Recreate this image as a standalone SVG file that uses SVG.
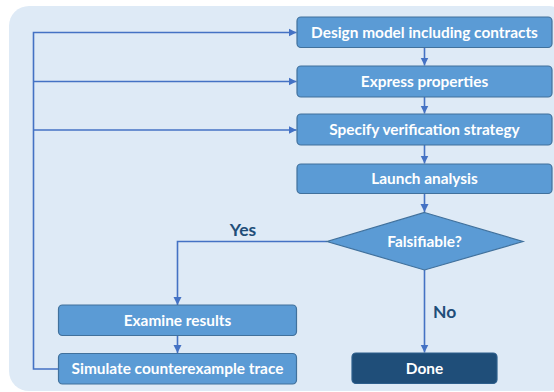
<svg xmlns="http://www.w3.org/2000/svg" width="554" height="392" viewBox="0 0 554 392">
  <defs>
    <marker id="arr" markerUnits="userSpaceOnUse" markerWidth="9" markerHeight="9" viewBox="0 0 9 9" refX="8" refY="4.5" orient="auto">
      <path d="M0,0.5 L8,4.5 L0,8.5 Z" fill="#4472C4"/>
    </marker>
  </defs>
  <style>
    .bg { fill: #DEEAF6; }
    .box { fill: #5B9BD5; stroke: #41719C; stroke-width: 1.2; }
    .done { fill: #1F4E79; stroke: #2E5F8C; stroke-width: 1.2; }
    .lbl { font-family: Lato, "Liberation Sans", sans-serif; font-weight: bold; font-size: 15.4px; fill: #FFFFFF; text-anchor: middle; }
    .edge { font-family: Lato, "Liberation Sans", sans-serif; font-weight: bold; font-size: 17.5px; fill: #1F4E79; }
    .con { fill: none; stroke: #4472C4; stroke-width: 1.6; }
  </style>
  <rect class="bg" x="9" y="6" width="560" height="385" rx="20" ry="20"/>
  <g id="connectors">
    <path class="con" d="M424.5,47.5 V65.5" marker-end="url(#arr)"/>
    <path class="con" d="M424.5,97 V113.5" marker-end="url(#arr)"/>
    <path class="con" d="M424.5,145 V163.5" marker-end="url(#arr)"/>
    <path class="con" d="M424.5,193.5 V212" marker-end="url(#arr)"/>
    <path class="con" d="M327,241.5 H177.5 V305" marker-end="url(#arr)"/>
    <path class="con" d="M177.5,335.5 V353" marker-end="url(#arr)"/>
    <path class="con" d="M424.5,270 V352.5" marker-end="url(#arr)"/>
    <path class="con" d="M58,369 H33.5 V32.5 H296.5" marker-end="url(#arr)"/>
    <path class="con" d="M33.5,81.5 H296.5" marker-end="url(#arr)"/>
    <path class="con" d="M33.5,130 H296.5" marker-end="url(#arr)"/>
    <text class="edge" x="243" y="236" text-anchor="middle">Yes</text>
    <text class="edge" x="433" y="318">No</text>
  </g>
  <g id="design">
    <rect class="box" x="297" y="17" width="255" height="30.5" rx="4"/>
    <text class="lbl" x="424.5" y="37.5">Design model including contracts</text>
  </g>
  <g id="express">
    <rect class="box" x="297" y="66" width="255" height="31" rx="4"/>
    <text class="lbl" x="424.5" y="87">Express properties</text>
  </g>
  <g id="specify">
    <rect class="box" x="297" y="114" width="255" height="31" rx="4"/>
    <text class="lbl" x="424.5" y="135">Specify verification strategy</text>
  </g>
  <g id="launch">
    <rect class="box" x="297" y="164" width="255" height="29.5" rx="4"/>
    <text class="lbl" x="424.5" y="184">Launch analysis</text>
  </g>
  <g id="falsifiable">
    <polygon class="box" points="424.5,212.5 523,241.5 424.5,270 327,241.5"/>
    <text class="lbl" x="424.5" y="246.5">Falsifiable?</text>
  </g>
  <g id="examine">
    <rect class="box" x="58.5" y="305" width="238" height="30.5" rx="4"/>
    <text class="lbl" x="177.5" y="325.5">Examine results</text>
  </g>
  <g id="simulate">
    <rect class="box" x="58.5" y="353.5" width="238" height="30.5" rx="4"/>
    <text class="lbl" x="177.5" y="374">Simulate counterexample trace</text>
  </g>
  <g id="done">
    <rect class="done" x="352" y="353" width="145" height="30.5" rx="4"/>
    <text class="lbl" x="424.5" y="373.5">Done</text>
  </g>
</svg>
